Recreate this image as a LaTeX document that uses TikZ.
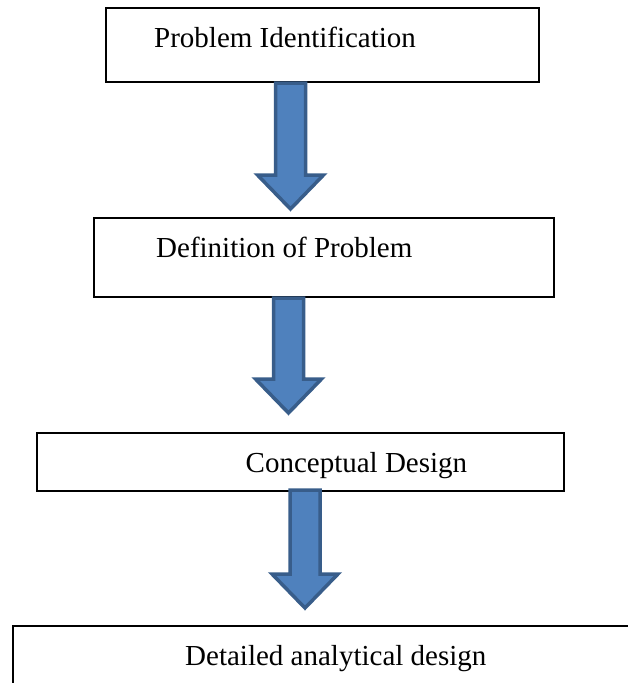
\documentclass[tikz,border=0pt]{standalone}
\usepackage{fontspec}
\setmainfont{Liberation Serif}
\usetikzlibrary{calc}

\definecolor{arrowfill}{HTML}{4F81BD}
\definecolor{arrowline}{HTML}{385D8A}

\tikzset{
  stagebox/.style={draw, line width=2pt, rectangle, inner sep=0pt},
  stagetext/.style={anchor=base west, inner sep=0pt, font=\fontsize{29pt}{34pt}\selectfont},
  blockarrow/.style={fill=arrowfill, draw=arrowline, line width=3.5pt, line join=miter}
}

% block arrow from a tail point down to the height of a tip point
\newcommand{\blockarrow}[2]{%
  \draw[blockarrow] let \p1 = (#1), \p2 = (#2) in
    (\x1-15pt,\y1) -- (\x1+15pt,\y1) -- (\x1+15pt,\y2+34pt)
    -- (\x1+33pt,\y2+34pt) -- (\x1,\y2) -- (\x1-33pt,\y2+34pt)
    -- (\x1-15pt,\y2+34pt) -- cycle;}

\begin{document}
\begin{tikzpicture}[x=1pt, y=-1pt]
        \useasboundingbox (0,0) rectangle (628,683);
        \clip (0,0) rectangle (628,683);

        % Draw the boxes
        \node[stagebox, minimum width=433pt, minimum height=74pt] (ident) at (322.5,45) {};
        \node[stagebox, minimum width=460pt, minimum height=79pt] (defn) at (324,257.5) {};
        \node[stagebox, minimum width=527pt, minimum height=58pt] (concept) at (300.5,462) {};
        \node[stagebox, minimum width=640pt, minimum height=80pt] (detail) at (333,666) {};

        % Add labels
        \node[stagetext] (identtext) at (154,47) {Problem Identification};
        \node[stagetext] (defntext) at (156,257) {Definition of Problem};
        \node[stagetext] (concepttext) at (245.5,472.5) {Conceptual Design};
        \node[stagetext] (detailtext) at (185,665) {Detailed analytical design};

        % Arrow ends
        \coordinate (tail1) at ($(ident.south)+(-32,0)$);
        \coordinate (tip1) at ($(defn.north)+(0,-8)$);
        \coordinate (tail2) at ($(defn.south)+(-35.5,0)$);
        \coordinate (tip2) at ($(concept.north)+(0,-19)$);
        \coordinate (tail3) at ($(concept.south)+(4.5,-2)$);
        \coordinate (tip3) at ($(detail.north)+(0,-17)$);

        % Draw the arrows
        \blockarrow{tail1}{tip1}
        \blockarrow{tail2}{tip2}
        \blockarrow{tail3}{tip3}
      \end{tikzpicture}
\end{document}
